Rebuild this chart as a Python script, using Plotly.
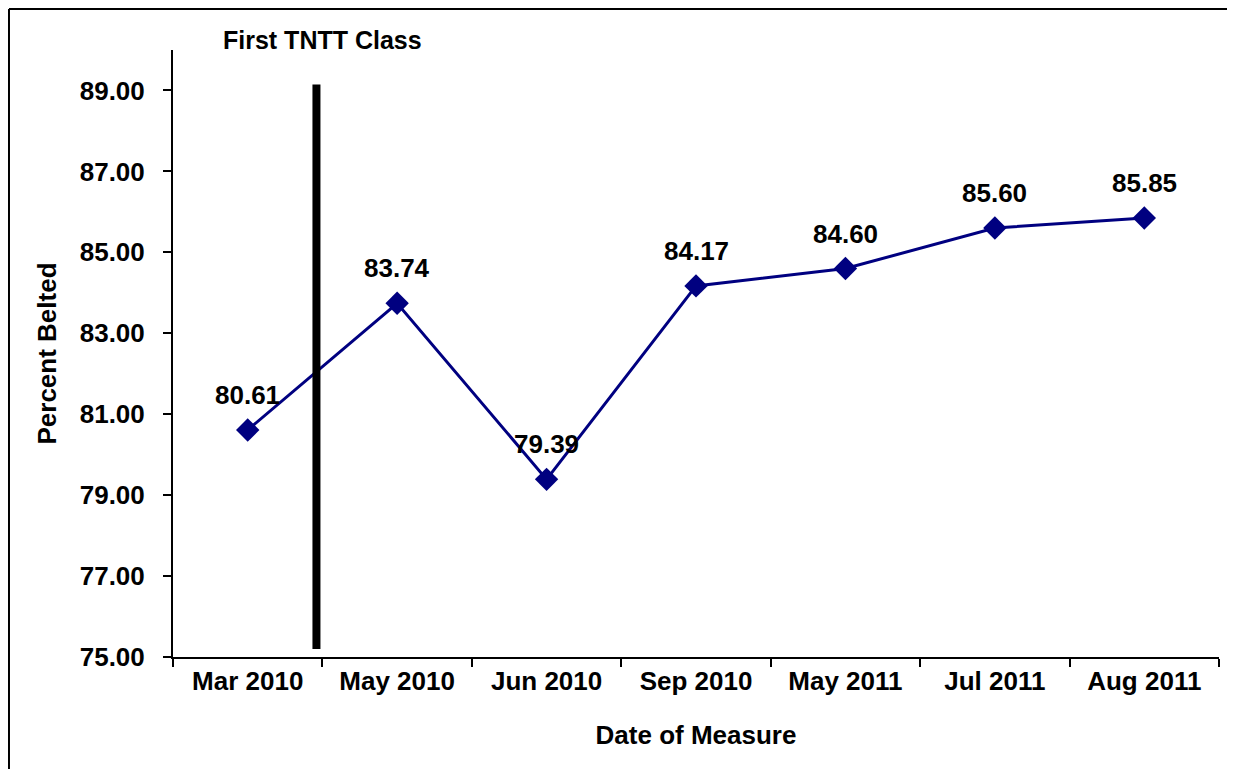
import plotly.graph_objects as go

# data
dates = ["Mar 2010", "May 2010", "Jun 2010", "Sep 2010", "May 2011", "Jul 2011", "Aug 2011"]
percent_belted = [80.61, 83.74, 79.39, 84.17, 84.60, 85.60, 85.85]
y_ticks = [75, 77, 79, 81, 83, 85, 87, 89]

# first class marker (between Mar 2010 and May 2010)
class_label = "First TNTT Class"
class_pos = 0.46
class_line_y = [75.2, 89.15]

font_family = "Arial, Liberation Sans, sans-serif"
navy = "#000080"
fsize = 26

fig = go.Figure()

fig.add_trace(go.Scatter(
    x=dates, y=percent_belted,
    mode="lines+markers",
    line=dict(color=navy, width=3),
    marker=dict(symbol="diamond", size=18, color=navy),
    showlegend=False,
    hoverinfo="x+y"))

# data labels
for d, v in zip(dates, percent_belted):
    fig.add_annotation(x=d, y=v, text="<b>%.2f</b>" % v, showarrow=False,
                       yanchor="bottom", yshift=18,
                       font=dict(family=font_family, size=fsize, color="black"))

# first class vertical bar
fig.add_shape(type="line", xref="x", yref="y",
              x0=class_pos, x1=class_pos, y0=class_line_y[0], y1=class_line_y[1],
              line=dict(color="black", width=8))
fig.add_annotation(x=class_pos, xref="x", y=1.0, yref="paper", text="<b>%s</b>" % class_label,
                   showarrow=False, yanchor="bottom", yshift=-6, xshift=6,
                   font=dict(family=font_family, size=25, color="black"))

# outer chart border (only top and left edges show in the picture)
fig.add_shape(type="line", xref="paper", yref="paper",
              x0=-0.1568, x1=1.2, y0=1.0675, y1=1.0675,
              line=dict(color="black", width=2))
fig.add_shape(type="line", xref="paper", yref="paper",
              x0=-0.1568, x1=-0.1568, y0=-0.4, y1=1.0675,
              line=dict(color="black", width=2))

fig.update_layout(
    width=1219, height=761,
    margin=dict(l=165, r=8, t=42, b=112),
    paper_bgcolor="white", plot_bgcolor="white",
    font=dict(family=font_family, size=fsize, color="black"),
    xaxis=dict(
        type="category",
        range=[-0.5, 6.5],
        tickvals=dates,
        ticktext=["<b>%s</b>" % d for d in dates],
        showline=True, linecolor="black", linewidth=2,
        ticks="outside", tickson="boundaries", ticklen=8, tickwidth=2, tickcolor="black",
        showgrid=False, zeroline=False,
        tickfont=dict(family=font_family, size=fsize, color="black"),
        ticklabelstandoff=0,
        title=dict(text="<b>Date of Measure</b>", standoff=31,
                   font=dict(family=font_family, size=fsize, color="black"))),
    yaxis=dict(
        range=[75, 90],
        tickvals=y_ticks,
        ticktext=["<b>%.2f</b>" % t for t in y_ticks],
        showline=True, linecolor="black", linewidth=2,
        ticks="outside", ticklen=8, tickwidth=2, tickcolor="black",
        showgrid=False, zeroline=False,
        tickfont=dict(family=font_family, size=fsize, color="black"),
        ticklabelstandoff=13,
        title=dict(text="<b>Percent Belted</b>", standoff=16,
                   font=dict(family=font_family, size=fsize, color="black"))),
)

fig.write_html("out.html")
